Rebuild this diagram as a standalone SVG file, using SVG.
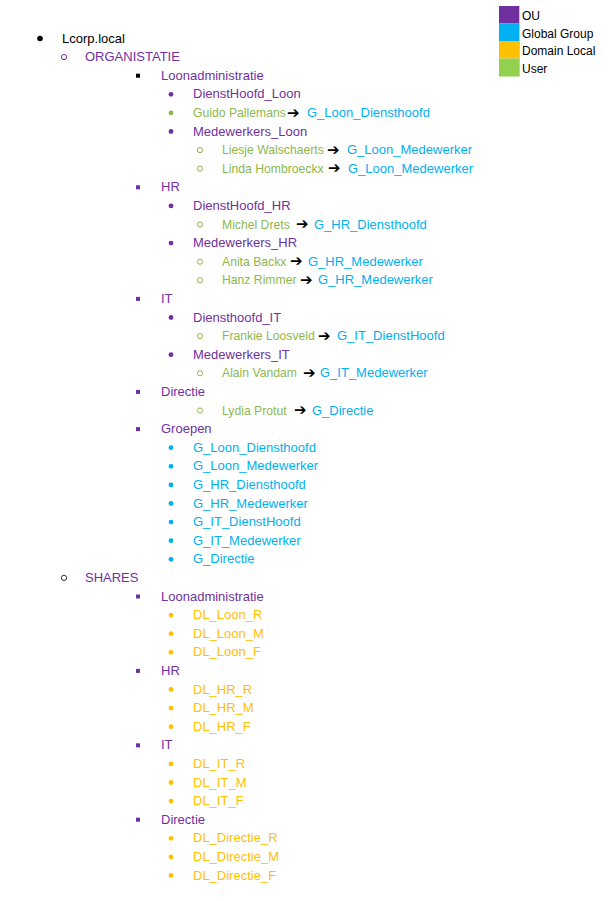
<svg xmlns="http://www.w3.org/2000/svg" xmlns:xlink="http://www.w3.org/1999/xlink" width="608" height="901" viewBox="0 0 608 901">
<style>
text{font-family:"Liberation Sans",Arial,sans-serif;font-size:13px}
.lg{font-size:12px;fill:#000}
.k{fill:#000}
.ou{fill:#7030A0}
.gg{fill:#00B0F0}
.dl{fill:#FFC000}
.us{fill:#8CB84E}
.nm{font-size:12.2px}
.ar{font-family:"DejaVu Sans",sans-serif;font-size:15px;font-weight:bold;fill:#000}
</style>
<defs>
<circle id="d1" r="2.8"/>
<circle id="ring" r="2.6" fill="none" stroke-width="1"/>
<rect id="sq" x="-2" y="-2" width="4" height="4"/>
<circle id="dot" r="2.4"/>
</defs>
<rect width="608" height="901" fill="#fff"/>
<g id="legend">
<rect x="499" y="6" width="20" height="17.5" fill="#7030A0"/>
<rect x="499" y="23.5" width="20" height="17.5" fill="#00B0F0"/>
<rect x="499" y="41" width="20" height="17.5" fill="#FFC000"/>
<rect x="499" y="58.5" width="20" height="18" fill="#92D050"/>
<line x1="519.5" y1="6" x2="519.5" y2="76.5" stroke="#c8c8c8" stroke-width="1"/>
<text class="lg" x="522" y="20">OU</text>
<text class="lg" x="522" y="37.5">Global Group</text>
<text class="lg" x="522" y="55">Domain Local</text>
<text class="lg" x="522" y="72.5">User</text>
</g>
<g id="connectors"></g>
<g id="n01"><use xlink:href="#d1" x="40" y="38.5" fill="#000"/><text class="k" x="62" y="42.5">Lcorp.local</text></g>
<g id="n02"><use xlink:href="#ring" x="64" y="57.1" stroke="#7030A0"/><text class="ou" x="85" y="61.1">ORGANISTATIE</text></g>
<g id="n03"><use xlink:href="#sq" x="138" y="75.7" fill="#000"/><text class="ou" x="161" y="79.7">Loonadministratie</text></g>
<g id="n04"><use xlink:href="#dot" x="171" y="94.3" fill="#7030A0"/><text class="ou" x="193" y="98.3">DienstHoofd_Loon</text></g>
<g id="n05"><use xlink:href="#dot" x="171" y="112.9" fill="#8CB84E"/><text class="us nm" x="193" y="116.9">Guido Pallemans</text><text class="ar" x="287" y="117.5">➔</text><text class="gg" x="307" y="116.9">G_Loon_Diensthoofd</text></g>
<g id="n06"><use xlink:href="#dot" x="171" y="131.5" fill="#7030A0"/><text class="ou" x="193" y="135.5">Medewerkers_Loon</text></g>
<g id="n07"><use xlink:href="#ring" x="200" y="150.1" stroke="#8CB84E"/><text class="us nm" x="222" y="154.1">Liesje Walschaerts</text><text class="ar" x="327" y="154.7">➔</text><text class="gg" x="347" y="154.1">G_Loon_Medewerker</text></g>
<g id="n08"><use xlink:href="#ring" x="200" y="168.7" stroke="#8CB84E"/><text class="us nm" x="222" y="172.7">Linda Hombroeckx</text><text class="ar" x="328" y="173.3">➔</text><text class="gg" x="348" y="172.7">G_Loon_Medewerker</text></g>
<g id="n09"><use xlink:href="#sq" x="138" y="187.3" fill="#7030A0"/><text class="ou" x="161" y="191.3">HR</text></g>
<g id="n10"><use xlink:href="#dot" x="171" y="205.9" fill="#7030A0"/><text class="ou" x="193" y="209.9">DienstHoofd_HR</text></g>
<g id="n11"><use xlink:href="#ring" x="200" y="224.5" stroke="#8CB84E"/><text class="us nm" x="222" y="228.5">Michel Drets</text><text class="ar" x="296" y="229.1">➔</text><text class="gg" x="314" y="228.5">G_HR_Diensthoofd</text></g>
<g id="n12"><use xlink:href="#dot" x="171" y="243.1" fill="#7030A0"/><text class="ou" x="193" y="247.1">Medewerkers_HR</text></g>
<g id="n13"><use xlink:href="#ring" x="200" y="261.7" stroke="#8CB84E"/><text class="us nm" x="222" y="265.7">Anita Backx</text><text class="ar" x="290" y="266.3">➔</text><text class="gg" x="308" y="265.7">G_HR_Medewerker</text></g>
<g id="n14"><use xlink:href="#ring" x="200" y="280.3" stroke="#8CB84E"/><text class="us nm" x="222" y="284.3">Hanz Rimmer</text><text class="ar" x="300" y="284.9">➔</text><text class="gg" x="318" y="284.3">G_HR_Medewerker</text></g>
<g id="n15"><use xlink:href="#sq" x="138" y="298.9" fill="#7030A0"/><text class="ou" x="161" y="302.9">IT</text></g>
<g id="n16"><use xlink:href="#dot" x="171" y="317.5" fill="#7030A0"/><text class="ou" x="193" y="321.5">Diensthoofd_IT</text></g>
<g id="n17"><use xlink:href="#ring" x="200" y="336.1" stroke="#8CB84E"/><text class="us nm" x="222" y="340.1">Frankie Loosveld</text><text class="ar" x="318" y="340.7">➔</text><text class="gg" x="337" y="340.1">G_IT_DienstHoofd</text></g>
<g id="n18"><use xlink:href="#dot" x="171" y="354.7" fill="#7030A0"/><text class="ou" x="193" y="358.7">Medewerkers_IT</text></g>
<g id="n19"><use xlink:href="#ring" x="200" y="373.3" stroke="#8CB84E"/><text class="us nm" x="222" y="377.3">Alain Vandam</text><text class="ar" x="303" y="377.9">➔</text><text class="gg" x="320" y="377.3">G_IT_Medewerker</text></g>
<g id="n20"><use xlink:href="#sq" x="138" y="391.9" fill="#7030A0"/><text class="ou" x="161" y="395.9">Directie</text></g>
<g id="n21"><use xlink:href="#ring" x="200" y="410.5" stroke="#8CB84E"/><text class="us nm" x="222" y="414.5">Lydia Protut</text><text class="ar" x="294" y="415.1">➔</text><text class="gg" x="312" y="414.5">G_Directie</text></g>
<g id="n22"><use xlink:href="#sq" x="138" y="429.1" fill="#7030A0"/><text class="ou" x="161" y="433.1">Groepen</text></g>
<g id="n23"><use xlink:href="#dot" x="171" y="447.7" fill="#00B0F0"/><text class="gg" x="193" y="451.7">G_Loon_Diensthoofd</text></g>
<g id="n24"><use xlink:href="#dot" x="171" y="466.3" fill="#00B0F0"/><text class="gg" x="193" y="470.3">G_Loon_Medewerker</text></g>
<g id="n25"><use xlink:href="#dot" x="171" y="484.9" fill="#00B0F0"/><text class="gg" x="193" y="488.9">G_HR_Diensthoofd</text></g>
<g id="n26"><use xlink:href="#dot" x="171" y="503.5" fill="#00B0F0"/><text class="gg" x="193" y="507.5">G_HR_Medewerker</text></g>
<g id="n27"><use xlink:href="#dot" x="171" y="522.1" fill="#00B0F0"/><text class="gg" x="193" y="526.1">G_IT_DienstHoofd</text></g>
<g id="n28"><use xlink:href="#dot" x="171" y="540.7" fill="#00B0F0"/><text class="gg" x="193" y="544.7">G_IT_Medewerker</text></g>
<g id="n29"><use xlink:href="#dot" x="171" y="559.3" fill="#00B0F0"/><text class="gg" x="193" y="563.3">G_Directie</text></g>
<g id="n30"><use xlink:href="#ring" x="64" y="577.9" stroke="#333"/><text class="ou" x="85" y="581.9">SHARES</text></g>
<g id="n31"><use xlink:href="#sq" x="138" y="596.5" fill="#7030A0"/><text class="ou" x="161" y="600.5">Loonadministratie</text></g>
<g id="n32"><use xlink:href="#dot" x="171" y="615.1" fill="#FFC000"/><text class="dl" x="193" y="619.1">DL_Loon_R</text></g>
<g id="n33"><use xlink:href="#dot" x="171" y="633.7" fill="#FFC000"/><text class="dl" x="193" y="637.7">DL_Loon_M</text></g>
<g id="n34"><use xlink:href="#dot" x="171" y="652.3" fill="#FFC000"/><text class="dl" x="193" y="656.3">DL_Loon_F</text></g>
<g id="n35"><use xlink:href="#sq" x="138" y="670.9" fill="#7030A0"/><text class="ou" x="161" y="674.9">HR</text></g>
<g id="n36"><use xlink:href="#dot" x="171" y="689.5" fill="#FFC000"/><text class="dl" x="193" y="693.5">DL_HR_R</text></g>
<g id="n37"><use xlink:href="#dot" x="171" y="708.1" fill="#FFC000"/><text class="dl" x="193" y="712.1">DL_HR_M</text></g>
<g id="n38"><use xlink:href="#dot" x="171" y="726.7" fill="#FFC000"/><text class="dl" x="193" y="730.7">DL_HR_F</text></g>
<g id="n39"><use xlink:href="#sq" x="138" y="745.3" fill="#7030A0"/><text class="ou" x="161" y="749.3">IT</text></g>
<g id="n40"><use xlink:href="#dot" x="171" y="763.9" fill="#FFC000"/><text class="dl" x="193" y="767.9">DL_IT_R</text></g>
<g id="n41"><use xlink:href="#dot" x="171" y="782.5" fill="#FFC000"/><text class="dl" x="193" y="786.5">DL_IT_M</text></g>
<g id="n42"><use xlink:href="#dot" x="171" y="801.1" fill="#FFC000"/><text class="dl" x="193" y="805.1">DL_IT_F</text></g>
<g id="n43"><use xlink:href="#sq" x="138" y="819.7" fill="#7030A0"/><text class="ou" x="161" y="823.7">Directie</text></g>
<g id="n44"><use xlink:href="#dot" x="171" y="838.3" fill="#FFC000"/><text class="dl" x="193" y="842.3">DL_Directie_R</text></g>
<g id="n45"><use xlink:href="#dot" x="171" y="856.9" fill="#FFC000"/><text class="dl" x="193" y="860.9">DL_Directie_M</text></g>
<g id="n46"><use xlink:href="#dot" x="171" y="875.5" fill="#FFC000"/><text class="dl" x="193" y="879.5">DL_Directie_F</text></g>
</svg>
